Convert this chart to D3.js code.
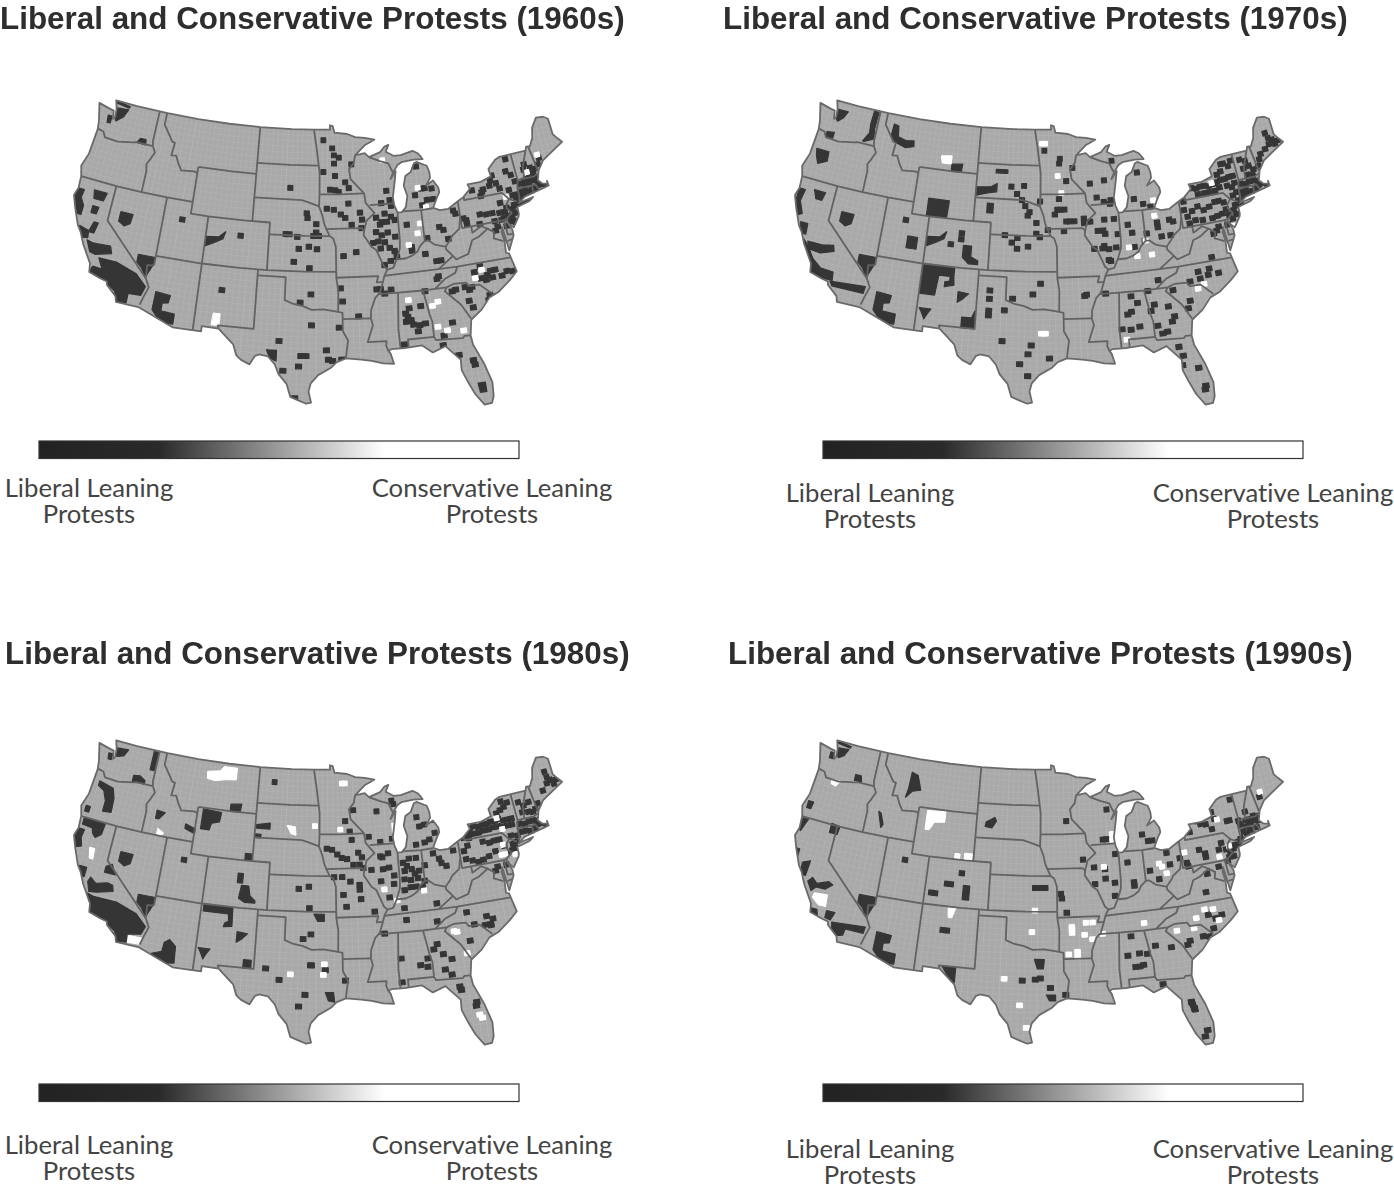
<!DOCTYPE html>
<html>
<head>
<meta charset="utf-8">
<script src="https://cdn.jsdelivr.net/npm/d3@7"></script>
<style>
  html, body { margin: 0; padding: 0; background: #fff; }
  svg { display: block; }
</style>
</head>
<body>
<div id="chart"></div>
<script>
const decades = ["1960s", "1970s", "1980s", "1990s"]
const legendLeft = ["Liberal Leaning", "Protests"]
const legendRight = ["Conservative Leaning", "Protests"]

// lon/lat of the lower 48 outline, lakes cut out
const usOutline = [[-124.7,48.38],[-123.2,48.15],[-122.7,48.1],[-122.5,47.4],[-122.3,47.6],[-122.4,48.3],[-122.75,49],[-120,49],[-116,49],[-112,49],[-108,49],[-104,49],[-100,49],[-97.2,49],[-95.15,49],[-95.15,49.38],[-94.8,49.3],[-94.6,48.75],[-93,48.6],[-92,48.3],[-90.8,48.2],[-89.6,48],[-90.8,47.6],[-92.1,46.75],[-90.9,46.9],[-90.4,46.55],[-89,46.9],[-88.4,47.35],[-87.9,47.47],[-88.3,46.9],[-87.4,46.5],[-86.5,46.5],[-85,46.75],[-84.4,46.5],[-84.1,46.2],[-83.9,45.95],[-85,46],[-86.5,45.9],[-87,45.7],[-87.6,45.1],[-88,44.55],[-87.3,45.2],[-87.5,44.4],[-87.9,43],[-87.8,42.3],[-87.5,41.7],[-87,41.7],[-86.5,42.1],[-86.2,43],[-86.5,43.9],[-86.2,44.7],[-85.5,45],[-85,45.7],[-84.7,45.78],[-83.5,45.35],[-83.3,44.8],[-83.3,44.3],[-83.9,43.7],[-83,44.05],[-82.5,43.4],[-82.45,43],[-82.8,42.6],[-83.1,42.2],[-83.4,41.75],[-82.7,41.5],[-81.7,41.5],[-80.5,42],[-79.8,42.27],[-78.9,42.85],[-79.05,43.27],[-77.5,43.27],[-76.2,43.55],[-76.3,44.2],[-75.3,44.85],[-74.7,45],[-73.3,45],[-71.5,45],[-71.3,45.3],[-70.85,45.25],[-70.3,45.9],[-70,46.7],[-69.2,47.45],[-68.3,47.35],[-67.8,47.07],[-67.8,45.7],[-67.45,45.3],[-67,44.85],[-68.5,44.3],[-69.8,43.8],[-70.6,43.1],[-70.8,42.7],[-71,42.3],[-70.6,41.95],[-70,41.8],[-70,42.05],[-69.95,41.65],[-70.65,41.55],[-71.4,41.45],[-72.9,41.25],[-73.75,40.85],[-72,41.05],[-72.5,40.8],[-74,40.55],[-74,40],[-74.1,39.75],[-74.9,38.95],[-75.5,39.5],[-75.1,38.8],[-75.1,38.3],[-75.9,37.15],[-76,38],[-76.15,39.2],[-76.3,38.8],[-76.2,38],[-76.3,37],[-76,36.9],[-75.6,35.3],[-76.5,34.7],[-77.9,33.9],[-78.9,33.6],[-79.9,32.7],[-81.1,32],[-81.4,30.7],[-81.3,29.9],[-80.55,28.2],[-80.05,26.5],[-80.15,25.3],[-80.4,24.75],[-81.1,24.7],[-81.8,25.7],[-82.3,26.8],[-82.75,27.9],[-82.7,28.8],[-83.4,29.5],[-84,30.1],[-85.3,29.7],[-86.3,30.4],[-88,30.3],[-89.3,30.3],[-89.6,30.15],[-89.4,29.9],[-89.15,29.05],[-90.2,29.15],[-91.3,29.4],[-92.3,29.55],[-93.8,29.7],[-94.7,29.4],[-95.3,28.9],[-96.5,28.3],[-97.2,27.6],[-97.4,26.9],[-97.15,25.95],[-97.6,25.85],[-98.3,26.1],[-99.1,26.4],[-99.5,27.5],[-100.3,28.3],[-100.7,29.1],[-101.4,29.75],[-102.3,29.87],[-102.7,29.7],[-103.15,28.98],[-104,29.3],[-104.5,29.65],[-104.9,30.55],[-106.5,31.75],[-108.2,31.78],[-108.2,31.33],[-111.07,31.33],[-114.8,32.5],[-117.12,32.53],[-117.3,33],[-118.4,33.75],[-118.5,34.03],[-119.2,34.15],[-120.5,34.45],[-120.65,35.15],[-121.9,36.6],[-122.5,37.5],[-123,38],[-123.8,39.3],[-124.35,40.3],[-124.1,41],[-124.2,42],[-124.55,42.85],[-124.1,44],[-123.95,46.2],[-124.1,46.9],[-124.7,48.38]]

// state lines, also lon/lat
const stateLines = [
  [[-124,46.25],[-123.2,46.15],[-122.8,45.7],[-121.2,45.65],[-119.3,45.93],[-118.98,46],[-116.92,46]],
  [[-117.03,49],[-117.04,46.42],[-116.92,46],[-116.5,45.5],[-116.85,44.9],[-117.2,44.4],[-117.03,43.8],[-117.03,42]],
  [[-124.2,42],[-122,42],[-120,42],[-117.03,42],[-114.04,42],[-111.05,42]],
  [[-120,42],[-120,39],[-114.63,35]],
  [[-114.04,36.2],[-114.75,36.1],[-114.63,35],[-114.15,34.3],[-114.5,33.4],[-114.72,32.72]],
  [[-114.04,42],[-114.04,36.2]],
  [[-114.04,37],[-109.05,37],[-105,37],[-102.04,37],[-98,37],[-94.62,37]],
  [[-109.05,41],[-109.05,31.33]],
  [[-111.05,45],[-111.05,41],[-109.05,41],[-105,41],[-102.05,41],[-102.05,37]],
  [[-111.05,45],[-107,45],[-104.05,45]],
  [[-104.05,45],[-104.05,41]],
  [[-116.05,49],[-116.05,48],[-114.7,46.7],[-114.35,46.65],[-114.5,45.55],[-113.9,45.6],[-113.45,44.95],[-113,44.45],[-111.5,44.55],[-111.05,44.5]],
  [[-104.05,49],[-104.05,45]],
  [[-104.05,45.94],[-100,45.94],[-96.56,45.94]],
  [[-104.05,43],[-98.5,43],[-97.8,42.85],[-96.5,42.5]],
  [[-102.05,40],[-98,40],[-95.3,40]],
  [[-103,37],[-103,32],[-106.62,32],[-106.5,31.75]],
  [[-103,36.5],[-100,36.5],[-100,34.56],[-99.2,34.3],[-98.1,34.1],[-97.2,33.8],[-96,33.85],[-94.48,33.64]],
  [[-94.62,37],[-94.62,36.5],[-94.43,35.4],[-94.48,33.64],[-94.04,33.55],[-94.04,32],[-93.55,31.2],[-93.8,29.7]],
  [[-94.04,33.02],[-91.17,33]],
  [[-97.2,49],[-96.85,47.5],[-96.56,45.94],[-96.45,45.3],[-96.45,43.5],[-96.5,42.5],[-96.1,41.7],[-95.9,41],[-95.3,40],[-94.9,39.8],[-94.62,39.1],[-94.62,37]],
  [[-96.45,43.5],[-94,43.5],[-91.22,43.5]],
  [[-95.77,40.58],[-91.7,40.6],[-91.42,40.38]],
  [[-94.62,36.5],[-90.15,36.5],[-90.37,35.99],[-89.7,36]],
  [[-92.1,46.75],[-92.3,46.1],[-92.9,45.6],[-92.75,44.75],[-91.22,43.5],[-91.1,42.7],[-90.15,41.8],[-91.1,41.2],[-91.42,40.38],[-91.5,40],[-90.7,39],[-90.2,38.7],[-89.5,37.3],[-89.15,37],[-89.5,36.5],[-89.7,36],[-90.1,35.1],[-90.6,34.7],[-91.1,33.7],[-91.17,33],[-91,32.4],[-91.6,31],[-89.73,31],[-89.8,30.6],[-89.6,30.15]],
  [[-90.64,42.5],[-87.8,42.5]],
  [[-90.4,46.55],[-89.1,46.14],[-88.1,45.9],[-87.8,45.35],[-87.6,45.1]],
  [[-87.52,41.7],[-87.53,39.35],[-87.6,38.7],[-88.05,37.8]],
  [[-89.15,37],[-88.5,37.1],[-88.05,37.8],[-87.1,37.8],[-86.3,38],[-85.7,38.3],[-85.4,38.7],[-84.8,39.1],[-84.4,39.1],[-83.7,38.65],[-82.6,38.4],[-82,38.9],[-81.75,39.2],[-80.85,39.7],[-80.52,40.64]],
  [[-84.8,41.7],[-84.8,39.1]],
  [[-87,41.76],[-84.8,41.7],[-83.45,41.73]],
  [[-80.52,42],[-80.52,39.72],[-75.79,39.72],[-75.42,39.8]],
  [[-79.76,42.27],[-79.76,42],[-75.35,42],[-74.7,41.36],[-75.13,40.98],[-75.2,40.65],[-74.75,40.2],[-75.42,39.8],[-75.55,39.5]],
  [[-74.7,41.36],[-73.9,41]],
  [[-73.65,41],[-73.5,41.3],[-73.5,42.05],[-73.26,42.75],[-73.3,44],[-73.35,45]],
  [[-73.5,42.05],[-71.8,42.02],[-71.38,42.02],[-71.13,41.5]],
  [[-71.8,42.02],[-71.85,41.32]],
  [[-73.26,42.75],[-71.3,42.7],[-70.82,42.87]],
  [[-72.46,42.73],[-72.3,43.7],[-71.5,45]],
  [[-70.7,43.07],[-71.08,45.3]],
  [[-75.79,39.72],[-75.7,38.46],[-75.05,38.45]],
  [[-75.9,37.95],[-75.25,38.03]],
  [[-79.48,39.72],[-79.48,39.2],[-78.4,39.6],[-77.75,39.3],[-77.1,38.9],[-77.3,38.4],[-76.3,38]],
  [[-77.75,39.3],[-78.87,38.77],[-79.65,38.58],[-80.3,37.5],[-81.68,37.2],[-81.97,37.54],[-82.6,38.15],[-82.6,38.4]],
  [[-81.97,37.54],[-83.68,36.6]],
  [[-75.9,36.55],[-81.68,36.59],[-83.68,36.6],[-88.07,36.55],[-89.5,36.5]],
  [[-81.68,36.59],[-82,36.1],[-83.1,35.75],[-84.32,34.99]],
  [[-83.1,35],[-84.32,34.99],[-85.6,34.98],[-88.2,35],[-90.3,35]],
  [[-83.1,35],[-82.35,35.2],[-81.05,35.15],[-80.8,34.82],[-79.67,34.8],[-78.55,33.86]],
  [[-83.1,35],[-83.35,34.7],[-81.9,33.4],[-81.1,32.1]],
  [[-85.6,34.98],[-85.18,32.87],[-85,32.3],[-85,31]],
  [[-87.6,30.3],[-87.6,31],[-85,31],[-84.86,30.7],[-82.2,30.57],[-82,30.75],[-81.45,30.72]],
  [[-88.2,35],[-88.47,31.9],[-88.4,30.3]]
]

// single county protests per decade, lon/lat
const liberal1960s = [[-111.9,40.4],[-105.2,39.7],[-99.9,44],[-97.9,41.9],[-97.8,41.5],[-100.2,40.1],[-99.8,40.1],[-98.9,39.9],[-98.7,38.9],[-97.6,39.1],[-99.2,37.8],[-97.5,37.3],[-96.7,38.9],[-97.3,35.1],[-98.4,34.4],[-106.6,35],[-97.2,32.5],[-100.4,31.1],[-99.9,28.6],[-98.4,29],[-98.2,29.9],[-97.7,29.9],[-98.7,26.3],[-96.8,40.3],[-97.1,40],[-96.5,40],[-96.8,41],
  [-96,48.1],[-94.9,47.4],[-94.7,46.8],[-94.1,46.6],[-94.7,46.1],[-92.6,46],[-96,45.4],[-94.6,45.05],[-93.4,44.5],[-95.2,43.9],[-94.2,43.7],[-93,44],[-94.6,43.85],[-93.1,42.7],[-95.6,42.3],[-94.8,42.2],[-94,41.8],[-93.5,41.5],[-92.8,40.9],[-91.8,41.9],[-91.6,41.3],[-91.7,40.6],
  [-89.3,42.6],[-88.3,42.8],[-88.2,42.3],[-90,41.4],[-89,41.7],[-88.3,41.4],[-87.9,41.1],[-90.1,40.2],[-89.5,39.9],[-88.8,40.1],[-88,39.7],[-89.9,39.4],[-89.2,39.3],[-89.7,38.8],[-88.7,38.8],[-90.5,39.3],[-88.2,38.5],[-88,38],[-88.7,37.7],[-89.4,37.4],[-89.6,40.8],[-88.8,41],[-89.4,41],[-88.6,43.6],
  [-86.6,40.6],[-86.3,38.4],[-86.3,38.7],[-84.5,39.3],[-83,40.1],[-82.6,39.8],[-82.2,39],[-81.2,41.3],[-81,41],[-84.9,38],[-83.8,37.3],[-83.3,37.3],[-84,35.8],[-83.8,36],[-90.4,35.4],[-90,35.4],[-88.9,35.3],[-89.6,35],[-85.4,34.9],
  [-80.2,40.5],[-79.9,40.3],[-78.3,40.6],[-77.6,40.5],[-79.9,40],[-78.5,39.8],[-76.9,40.5],[-76.1,40.4],[-76.8,39.8],[-76,39.8],
  [-78.7,42.7],[-77.6,42.4],[-77.8,42.1],[-77.4,42.6],[-76.4,43.2],[-75.8,42.9],[-76.1,43.6],[-74.1,44.7],[-73.9,43.3],[-73.6,42.7],[-75.5,42.4],[-76.6,42.8],[-74.4,43.7],
  [-72.1,43.9],[-72.3,43.5],[-72.2,42.7],[-73.1,42.4],[-72.6,42.3],[-72.1,42.3],[-71.6,42.4],[-71.2,42.4],[-70.9,42.5],[-71.1,42.1],[-70.8,41.9],[-70.2,41.7],[-71.8,42.6],[-72.5,42.6],[-71.5,43.5],[-71.3,43],[-71.8,43.1],[-71,43.3],[-70.5,43.6],[-70.2,44.1],[-73.2,41.7],[-72.7,41.8],[-72.2,41.6],[-72.9,41.4],[-73.3,41.3],[-71.9,41.7],[-71.5,41.7],[-73.7,41.6],[-73.8,41.1],[-73.9,41.4],[-74.2,41.6],[-74,40.7],[-73.5,40.8],[-72.8,40.9],[-74.5,42.1],[-74.3,40.8],[-74.6,40.5],[-74.4,40.1],[-74.8,39.8],[-75,39.5],[-74.6,39.4],[-75.2,40],[-75.5,40.4],[-75.2,40.7],[-75.8,41.2],[-75.7,39.9],[-75.6,39.2],[-76.6,39.3],[-76.9,39],
  [-79.3,36.3],[-78.7,35.5],[-78.2,35.2],[-77.8,35.8],[-77.2,35.2],[-76.6,35.5],[-76,35.4],[-79.4,35.3],[-78.9,35.1],[-80,35.9],[-78.3,35.8],
  [-81,33.6],[-80.7,33],[-80.8,34.5],[-82.2,34.7],[-78.8,33.8],[-78.4,33.6],[-79,33.4],[-81.2,34.8],[-80.5,34.7],[-84,31],[-83,32],[-82.6,34.6],
  [-87.4,32.9],[-87.6,32.5],[-86.9,32.2],[-86.5,31.6],[-86.3,32.1],[-85.7,32.2],[-86,33.7],[-87.2,33.6],[-87.1,32.6],[-87.6,33.2],
  [-93.8,38.3],[-92.4,38.6],[-94.2,35.6],[-94,34.5],[-92.4,33.2],[-94.4,32.3],[-95.7,30.4],[-95.5,29.6],[-95.1,29.5],[-94.2,29.6],[-81.5,28.6],[-81.4,28.2],[-82.8,29.2],[-84.2,30.2],[-88,30.6],
  [-84.8,45.4],[-84.1,43.5],[-85.3,43],[-84,42.5],[-83.3,42.5],[-84.6,42.1],[-84.5,43.5],[-83.3,43.4]]
const conservative1960s = [[-88.8,46.2],[-84.9,43.6],[-84.2,41.9],[-85.1,40.6],[-85.5,39.8],[-86.6,38.9],[-79.2,36],[-80,35.4],[-87.2,34.3],[-84.8,33.6],[-84.2,33.9],[-84.5,31.8],[-83.6,31.4],[-82,31.2],[-70.3,44.4],[-72,43.2],[-75,41.6]]
const liberalAreas1960s = [
  [[-119.9,35.8],[-118,35.8],[-115.7,35.2],[-114.5,34.3],[-114.8,33.5],[-116.1,33.45],[-116.1,32.65],[-117.1,32.55],[-117.5,33.4],[-118.5,33.9],[-119.3,34.2],[-120.5,34.5],[-120.3,35],[-119.3,34.95]],
  [[-115.9,36.85],[-114.05,36.85],[-114.2,36.1],[-114.7,35.1],[-115.3,35.8],[-115.9,36.2]],
  [[-113.35,34.05],[-111.8,33.95],[-111.9,33.3],[-112.5,33.2],[-112.5,32.55],[-111.1,32.45],[-111.1,31.6],[-112.3,31.55],[-113.4,32.5]],
  [[-122.3,41.2],[-120.8,41.2],[-121,40.5],[-122.1,40.5]],
  [[-124.1,41],[-123.4,41],[-123.5,40.3],[-123,39.7],[-123,38.9],[-123.7,38.9],[-124.2,40.2]],
  [[-122,39.9],[-121.3,39.9],[-121.4,39.3],[-122,39.3]],
  [[-121.4,38.6],[-120.9,38.6],[-121.1,37.7],[-121.7,37.7]],
  [[-122.8,38],[-121.7,37.8],[-121.6,37.2],[-122.2,37.1],[-122.6,37.5]],
  [[-121.6,37],[-121,36.9],[-120.5,36.9],[-119,37],[-118.7,36.4],[-120.4,36],[-121,36.1]],
  [[-118.8,40],[-117.4,40],[-117.5,39.2],[-118.1,38.9],[-118.8,39.2]],
  [[-109,39.3],[-107.6,39.4],[-106.9,39.9],[-107.1,39.3],[-108,38.9],[-109,38.5]],
  [[-122.5,48.4],[-120.9,48.5],[-121.3,47.8],[-122.1,47.3],[-122.4,47.7]],
  [[-123.2,47.6],[-122.7,47.6],[-122.7,47],[-123.1,47]],
  [[-122.6,49],[-120.8,48.8],[-120.9,48.65],[-122.5,48.8]],
  [[-118.6,46.4],[-117.9,46.4],[-117.8,45.95],[-118.9,46]],
  [[-101.6,30.3],[-100.6,30.3],[-100.6,29.4],[-101.2,29.6]],
  [[-81.4,26.6],[-80.7,26.6],[-80.7,25.8],[-81.3,25.8]]]
const conservativeAreas1960s = [[[-107.2,33],[-106.5,33],[-106.5,32],[-107.3,32]]]

const liberal1970s = [[-111.6,40.4],[-105.2,39.9],[-105.2,39.4],[-106.3,38.9],[-99.9,44.1],[-99.2,43.5],[-98.6,43],[-98.2,42.5],[-97.7,42],[-98.4,44.2],[-97.9,41.7],[-96.9,41.1],[-100.4,40],[-99,39.8],[-99.6,39.4],[-99,38.9],[-97.8,39.1],[-96.9,40.2],[-96.5,39.9],
  [-101.7,35.3],[-101.7,34.6],[-101.7,33.6],[-101.7,33.2],[-100.1,33.7],[-100.2,31.1],[-97.3,30.8],[-97.6,30.05],[-98.4,29.2],[-97.6,28.2],[-99.3,34.7],[-97.2,35.1],[-96.4,36],
  [-96,47.2],[-94.1,46.5],[-94.2,46.1],[-92.6,45.7],[-93.4,44.6],[-90.6,44.3],[-88.9,44.5],[-89.9,43.1],[-89.1,42.7],[-88.3,42.8],[-88.4,42.5],[-87.8,46.1],[-84.9,44.9],[-85.6,42.7],[-84.6,42.2],[-83.8,41.9],
  [-96.5,42.9],[-94.3,43.1],[-94.5,42.2],[-94.2,42.2],[-94.8,41.8],[-93.7,42.2],[-92.6,41.2],[-93.5,41.2],[-93.1,41.2],[-91.5,41.4],[-91.5,41],[-93.8,40.4],[-95.6,40.5],
  [-90.8,41.1],[-89.2,41.2],[-88.1,41.2],[-90,40.3],[-89.4,40.3],[-89.2,40],[-87.8,39.9],[-90.5,38.8],[-89.4,39],[-89.6,38.8],[-88.9,38.7],[-88.1,38.8],[-89,37.8],[-88.8,37.7],[-86.6,40.6],[-86.2,39.9],[-86.1,38.7],
  [-84.6,39.7],[-84.9,39.1],[-83.3,40.5],[-83.3,40.1],[-81.9,40.6],[-81.5,40.4],[-82,39.3],[-83,39.3],
  [-68.8,46],[-68.6,45.5],[-68.2,45.3],[-67.6,45.1],[-68,44.9],[-68.7,45],[-69.3,44.7],[-70,44.4],
  [-78.8,42.9],[-78.3,42.8],[-77.8,42.9],[-77.3,42.9],[-76.8,42.8],[-76.3,42.9],[-75.8,43],[-75.3,43.1],[-74.8,43.1],[-74.3,43.2],[-73.8,43.2],[-75.6,43.6],[-75.1,43.8],[-74.6,44.4],[-74.1,44.1],[-73.7,44.5],[-74.9,44.4],[-75.6,42.5],[-76.2,42.3],[-76.9,42.3],[-77.5,42.3],[-78.2,42.3],[-74.7,42.5],[-74.2,42.3],[-73.8,42.6],[-73.8,41.8],[-74.3,41.6],
  [-72.6,44.4],[-72,44.2],[-72.4,43.6],[-71.7,43.7],[-71.3,43.3],[-72.1,43],[-71.5,42.9],[-70.6,43.5],[-70.3,44],[-73.1,42.4],[-72.6,42.3],[-72.1,42.4],[-71.6,42.4],[-71.1,42.3],[-70.8,42],[-70.2,41.7],[-73.2,41.7],[-72.7,41.8],[-72.2,41.6],[-72.7,41.4],[-73.3,41.3],[-71.5,41.7],[-71.2,41.9],
  [-79.8,40.6],[-79.2,41],[-78.5,41.3],[-77.9,40.9],[-77.2,41.1],[-76.5,41.4],[-76,41.4],[-75.5,41.2],[-75.4,40.6],[-75.2,40.1],[-75.9,40.3],[-76.5,40.2],[-77.1,40.1],[-78.2,40.1],[-79,40.2],[-79.7,40],[-80.1,41.2],[-80,41.9],
  [-74.3,40.8],[-74.6,40.4],[-74.4,40],[-74.9,39.7],[-74,40.7],[-73.6,40.8],[-73.8,41.1],[-75.6,39.3],[-76.6,39.3],[-76.9,39],[-77.3,38.8],[-78,36.9],
  [-87,34.6],[-86.4,34],[-87.5,33.1],[-87.1,33.3],[-87.3,31.8],[-86.4,32],[-88.2,31.9],[-91.8,34.9],[-91.6,35],[-84,35.7],[-89.6,35],[-85.2,34.9],
  [-79.7,35.9],[-80.7,35.2],[-79.6,35.3],[-78.7,35.5],[-77.6,35.5],[-78.5,36],[-81,33.6],[-81.3,33],[-82.6,34.7],[-84.7,33.7],[-83.3,33.4],[-84.6,31.9],[-84.2,31.2],[-83.7,31.3],[-82.8,32.5],[-83.1,32.1],[-85.1,33.2],
  [-82.8,29.9],[-82.5,29.1],[-82.7,28.3],[-81.2,27.9],[-80.8,26.3],[-80.9,26],[-95.5,29.7]]
const conservative1970s = [[-86.7,38.7],[-84.8,39.1],[-85.9,37.9],[-84.3,37.9],[-96.3,31.8],[-95.9,31.8],[-87.8,31],[-94.4,45.05],[-94,43.6],[-96.3,47.8],[-95.9,47.8],[-83.4,42.4],[-80,34.5],[-79.3,34.8],[-75,39.1],[-75.9,37.1],[-76.4,43],[-83.5,41.1]]
const liberalAreas1970s = [
  [[-122.4,48.3],[-121,48.3],[-121.4,47.7],[-122,47.3],[-122.4,47.6]],
  [[-117.8,48.9],[-117.2,48.9],[-117.3,47.4],[-117.1,46.6],[-118.2,46.2],[-118.4,46.2],[-117.8,47],[-117.9,47.8]],
  [[-122.9,46.2],[-122,46.3],[-122,45.8],[-122.8,45.8]],
  [[-123.5,44.6],[-122,44.6],[-121.9,43.8],[-122.9,43.4],[-123.3,44]],
  [[-115,48.2],[-114.4,48.1],[-114.2,47.2],[-113.2,47],[-112.2,47.1],[-112.1,46.6],[-113.1,46.4],[-114.5,46.7],[-115.1,47.2]],
  [[-107.2,45.6],[-105.9,45.7],[-106,45],[-107.2,45]],
  [[-109.4,42.5],[-107,42.5],[-107.1,41.05],[-109.4,41.05]],
  [[-104,43.9],[-102.3,44],[-101.6,44.3],[-101.6,43.6],[-102.5,43.5],[-104,43.2]],
  [[-101.8,45.5],[-100.4,45.5],[-100.4,45.2],[-101.8,45.2]],
  [[-102.6,42.6],[-101.9,42.6],[-101.9,41.8],[-102.6,41.8]],
  [[-122.4,41.2],[-121.1,41.2],[-121.3,40.5],[-122,40.5]],
  [[-124.1,41],[-123.4,41],[-123.6,40],[-123,39],[-123.6,38.7],[-124.1,40]],
  [[-122.9,38.3],[-122.1,38.3],[-122,37.4],[-122.6,37.4]],
  [[-121.6,36.9],[-120,36.9],[-118.8,37.1],[-118.6,36.6],[-120,36.2],[-121.3,36.3]],
  [[-122.1,37],[-121.4,36.5],[-120.6,35.6],[-119.6,35],[-118.2,34.9],[-118.1,34.2],[-119.3,34.2],[-120.5,34.5],[-120.9,35.4],[-121.9,36.5]],
  [[-118.3,34.1],[-114.6,34.3],[-114.7,33.7],[-118,33.75]],
  [[-115.9,36.85],[-114.05,36.85],[-114.2,36.1],[-114.7,35.1],[-115.3,35.8],[-115.9,36.2]],
  [[-113.35,34.05],[-111.8,33.95],[-111.9,33.3],[-112.5,33.2],[-112.5,32.55],[-111.1,32.45],[-111.1,31.6],[-112.3,31.55],[-113.4,32.5]],
  [[-111.1,39.1],[-110,39.1],[-110,38.1],[-111.1,38.1]],
  [[-118.8,40],[-117.4,40],[-117.5,39.2],[-118.1,38.9],[-118.8,39.2]],
  [[-109,39.3],[-107.6,39.4],[-106.9,39.9],[-107.1,39.3],[-108,38.9],[-109,38.5]],
  [[-104.9,38.9],[-104,38.9],[-104,38],[-103.2,37.7],[-103.2,37.4],[-104.2,37.4],[-104.9,37.9]],
  [[-109,37],[-105.6,36.95],[-105.6,36.2],[-105.5,35.5],[-106.5,35.3],[-106.5,35.7],[-106,35.8],[-106,36.2],[-107.2,36.2],[-107.4,34.5],[-109,34.5]],
  [[-105,35],[-103.9,34.9],[-104.5,34.4],[-105,34.1]],
  [[-108.8,33.3],[-107.6,33.3],[-107.9,32.9],[-108.2,32.4],[-108.5,32.9]],
  [[-104.4,32.9],[-103.4,32.9],[-103.1,33.5],[-103.05,32],[-104.4,32]]]
const conservativeAreas1970s = [[[-108.6,46.2],[-107.3,46.3],[-107.3,45.6],[-108.4,45.6]]]

const liberal1980s = [[-111.7,40.4],[-105.2,39.7],[-105.2,39.3],[-102.1,47.8],[-98.7,38.9],[-97.6,39.1],[-97.5,37.3],[-101.8,32.1],[-100.4,31.2],[-97.2,32.5],[-97.8,30],[-98.4,29],[-98.1,34.7],[-97.3,35.1],
  [-87.7,46.1],[-87.5,45.8],[-92.4,45.5],[-93.4,44.6],[-89.6,45.3],[-92.9,43.7],[-92.7,43],[-90.7,43.2],[-89.4,42.7],[-88,42.9],
  [-95.6,42.3],[-95,42.2],[-94.4,41.8],[-93.9,41.5],[-93.3,41.4],[-92,41.9],[-91.6,41.5],[-91.9,40.9],[-92.6,40.9],[-91.5,40.6],
  [-90.6,40.4],[-89.3,41.4],[-89.3,40.4],[-88.6,40.5],[-89.6,39.4],[-88.1,39.8],[-88.2,39.1],[-88.8,38],[-89.5,41.5],[-88.6,41.7],
  [-94.8,39.9],[-93.9,39.9],[-93,39.5],[-93.8,38.4],[-92,39.2],[-91.9,38],[-93.5,37.4],[-90.5,36.9],[-92,38.8],
  [-87,40.8],[-86.3,41.1],[-85.5,41.1],[-86.9,40.1],[-86.1,40.2],[-85.3,40],[-84.6,40.4],[-87,39.4],[-86.3,39.3],[-85.5,39.4],[-84.8,39.1],[-87.1,38.5],[-86.4,38.7],[-85.8,38.7],[-85.1,38.6],[-86.6,40.5],[-85.8,39.8],
  [-83.5,41.3],[-82.7,40.4],[-82.2,40.1],[-81.2,41.3],[-82.9,40.8],[-84.9,44.5],[-84.1,43.8],[-83,44.1],[-83,43],[-84.3,42.3],[-85.3,42.2],[-83.7,42.5],[-84.7,43.7],
  [-80.8,36],[-78.8,35.4],[-78.5,34.7],[-80.2,34.9],[-79.1,34.7],[-78.5,34.6],[-78.2,35.1],[-80.9,33.6],[-84.3,33.7],[-83.8,32.8],[-84.7,33.3],[-83,32.3],[-83.8,31.5],[-83.2,31],
  [-88.1,32.8],[-86.2,32.1],[-85.4,32.6],[-85.5,31.9],[-82.5,29.6],[-82.6,29.9],[-81.2,28.4],[-81.3,28.1],[-93.8,31.2],[-95.8,32.1],[-88.2,30.8],[-97.3,32.5],[-87.2,36],[-84,35.6],[-89.6,35],[-87.3,37],[-83.8,37.1],
  [-68.7,46.1],[-68.6,45.6],[-68.3,45.3],[-67.6,45.2],[-68,44.9],[-68.8,45.1],[-69.5,44.6],
  [-79.8,42.2],[-79.2,42.5],[-78.9,42.9],[-78.4,43],[-77.9,42.9],[-77.4,43],[-76.9,43],[-76.4,43.1],[-75.9,43.1],[-75.4,43.2],[-74.9,43],[-74.4,43],[-73.9,43],[-78.6,42.4],[-78,42.4],[-77.4,42.5],[-76.8,42.5],[-76.2,42.6],[-75.6,42.6],[-75,42.5],[-74.5,42.5],[-74,42.5],[-79.2,42.1],[-75.5,43.7],[-75,43.9],[-74.5,44.1],[-74,44.4],[-74.7,44.6],
  [-72.7,44.2],[-72.2,43.8],[-71.5,44],[-71.8,43.2],[-71.3,43.1],[-72.5,43.3],[-70.5,43.7],[-70.9,43.3],[-73.1,42.4],[-72.6,42.3],[-72,42.4],[-71.5,42.4],[-71.1,42.3],[-70.8,42],[-70.2,41.7],[-73.1,41.7],[-72.6,41.7],[-72.1,41.6],[-71.5,41.7],[-71.2,42],
  [-77.7,41.6],[-77,41.4],[-76.4,41.5],[-75.8,41.5],[-79.5,41.5],[-80,41.1],[-79.9,40.4],[-79.2,40.2],[-78.6,40],[-78,40.1],[-77.3,40.3],[-76.5,40.6],[-75.4,40.9],[-75.3,40.2],
  [-74.4,40.9],[-74.6,40.4],[-74.2,40.5],[-74,41],[-73.7,41.5],[-74.4,41.6],[-76.6,39.3],[-76.9,39],[-75.6,39.3]]
const conservative1980s = [[-93.7,47.8],[-93.3,47.8],[-97,44.2],[-94,43.9],[-87.6,44],[-87.6,43.6],[-88,37.7],[-89.3,38.7],[-85,38.3],[-75.5,41],[-75.9,40.2],[-75.5,40.2],[-74.4,40],[-82.1,34.5],[-82.4,34.6],[-81.4,32.6],[-81.1,27.3],[-80.9,27],[-96,31.7],[-99.3,31.7],[-75.6,43.3],[-75.2,42.3],[-95.9,32.6]]
const liberalAreas1980s = [
  [[-122.5,48.4],[-120.9,48.5],[-121.3,47.9],[-122.1,47.7],[-122.4,47.9]],
  [[-123.2,47.8],[-122.7,47.8],[-122.7,47.3],[-123.1,47.3]],
  [[-117.7,48.9],[-117.1,48.9],[-117.2,47.3],[-117.7,47.3]],
  [[-119.5,46.5],[-118.7,46.6],[-118,46.3],[-118,46],[-119.5,46]],
  [[-123.3,45.3],[-121.5,45],[-121.1,44.2],[-121,43],[-122,42.9],[-122,43.8],[-122.5,44.6],[-123.3,44.9]],
  [[-124,43],[-123.5,43],[-123.5,42.5],[-124,42.5]],
  [[-123.8,42],[-122,42],[-121.3,41.9],[-121.4,41],[-122,40.6],[-122.4,40.9],[-122.6,41.3],[-123.8,41.4]],
  [[-115.8,44.1],[-114.8,44],[-115.4,43.4],[-115.8,43.4]],
  [[-112.2,43.4],[-111,43.1],[-111,42.7],[-112.2,43]],
  [[-107.2,45.6],[-105.9,45.7],[-106,45],[-107.2,45]],
  [[-110.4,44.9],[-108.2,44.8],[-108.3,44],[-109.2,43.8],[-109.4,43.2],[-110.4,43.2]],
  [[-103.9,44.1],[-102.3,44.3],[-102.3,43.8],[-103.9,43.8]],
  [[-104,43.3],[-103.3,43.3],[-103.3,43],[-104,43]],
  [[-104.9,41.6],[-104.1,41.6],[-104.1,41.05],[-104.9,41.05]],
  [[-118.8,40],[-117.4,40],[-117.5,39.2],[-118.1,38.9],[-118.8,39.2]],
  [[-105,38.9],[-104.2,38.9],[-104,38.1],[-103.4,37.7],[-103.4,37.5],[-104.5,37.5],[-105.2,37.8]],
  [[-124.1,41],[-123.4,41],[-123.5,40.3],[-123.2,39.6],[-123.8,39.4],[-124.2,40.2]],
  [[-122.8,38],[-122,38],[-122,37.2],[-122.5,37.2]],
  [[-120,38.5],[-119.4,38.8],[-118.8,38],[-120,38]],
  [[-121.5,36.9],[-121.3,37.3],[-120.6,36.9],[-119.4,37.2],[-118.8,37.1],[-118.6,36.6],[-120.3,36.2],[-121.1,36.1]],
  [[-121.6,36],[-120.5,35.8],[-118,35.8],[-115.7,35.2],[-114.5,34.3],[-114.8,33.6],[-116.2,33.4],[-116.1,32.7],[-117.1,32.6],[-117.5,33.4],[-118.5,33.9],[-120.5,34.5],[-120.9,35.2]],
  [[-115.9,36.85],[-114.05,36.85],[-114.2,36.1],[-114.7,35.1],[-115.3,35.8],[-115.9,36.2]],
  [[-112.3,33.3],[-111.8,33.6],[-111.1,33.1],[-111,31.7],[-112.2,31.55],[-113.4,32.2],[-112.4,32.5]],
  [[-108.8,37],[-105.7,36.95],[-105.6,35.4],[-106.5,35.3],[-106.4,35.6],[-106,35.8],[-106.1,36.4],[-108.8,36.4]],
  [[-105,35],[-103.9,34.9],[-104.5,34.4],[-105,34.1]],
  [[-108.8,33.3],[-107.6,33.3],[-107.9,32.9],[-108.2,32.4],[-108.5,32.9]],
  [[-104.1,32.7],[-103.3,32.7],[-103.3,32],[-104.1,32]],
  [[-97,36.8],[-95.9,36.8],[-95.9,36.2],[-96.6,36.2]],
  [[-95.8,30.2],[-95,30.2],[-94.9,29.4],[-95.5,29.5]]]
const conservativeAreas1980s = [
  [[-110.6,48.1],[-109,48.3],[-108.6,48.7],[-106.9,48.7],[-106.9,47.7],[-108.3,47.6],[-109.5,47.4],[-110.5,47.5]],
  [[-115.3,42.6],[-114.5,42.3],[-114.8,42],[-115.3,42.1]],
  [[-100.3,44.2],[-99.3,44.1],[-99.2,43.4],[-99.8,43.5]],
  [[-122.3,39.7],[-121.7,39.7],[-121.6,38.8],[-122,38.8]],
  [[-116,33.3],[-114.6,33.3],[-114.7,32.75],[-116,32.7]]]

const liberal1990s = [[-111.7,40.4],[-105.2,39.9],[-106.7,38.9],[-106.3,38.9],[-108.3,38],[-107.9,38],[-106.6,35],[-106.2,35],[-93.4,44.6],[-88.5,45.4],[-89.2,42.9],[-88.8,42.9],[-90.4,40.6],[-89.2,40.4],[-89.2,39.6],[-90.4,39.2],[-88.3,38.1],[-88.2,39.2],[-87.9,41.6],[-91.6,41.3],[-86.6,40.8],[-86.1,38.8],[-86.1,39.1],
  [-96.4,39],[-97,39],[-94.2,38.5],[-94.1,38.1],[-93.6,36.9],[-82.1,41.2],[-80.7,40.6],[-81.9,40.2],[-84.2,39.9],[-83.3,39.1],[-78,38.9],[-78.5,37.4],[-84.6,43],[-84,42.4],[-83.5,42.4],
  [-79.1,42.6],[-77.7,43.1],[-77.1,43],[-76.5,42.5],[-76,43.3],[-76.2,43.9],[-74.6,42.9],[-74.3,42.9],[-73.7,44.6],[-73.3,42.7],[-72.3,43.3],[-70.2,44.2],[-80,40.1],[-79.9,39.8],[-78.4,41],[-77.8,40.6],[-77.8,40.3],[-76.2,40.7],
  [-75,40.2],[-74.6,40.5],[-74.3,40.8],[-74,40.7],[-73.8,41],[-73.5,41.2],[-74.7,39.9],[-75.2,39.9],[-75.5,39.6],[-76.6,39.3],[-75.4,40.6],[-75.8,41.2],[-73,41.7],[-72.6,42.1],[-72.2,41.7],[-72,42.3],[-71.5,42.4],[-71.1,42.3],[-71.4,41.8],[-73.2,42.3],[-72.7,41.5],[-70.8,42.7],[-72,42.6],[-72.5,42.6],[-71.5,42.8],[-78,43.4],
  [-78.7,35.5],[-78,35.1],[-77.3,35.3],[-78.4,34.3],[-79,33.7],[-81,33.6],[-79.6,33.8],[-81.3,33.3],[-87.5,33],[-86.3,33.1],[-85.5,33],[-86.8,32],[-86.4,32],[-86,32.1],[-87,34.6],[-84.6,33.6],[-83,33.3],[-84.3,30.3],[-80.7,25.9],[-81,25.4],[-96.4,31.4],[-95.4,30.6],[-93.9,30],[-96.4,32.7],[-96.9,31.3],
  [-98.2,31.2],[-95.9,39],[-81.8,28.5],[-81.6,27.9]]
const conservative1990s = [[-93.1,35.7],[-93.1,35.2],[-91.6,36],[-90.9,36],[-91.8,35],[-91,34.6],[-92.6,33.6],[-92.6,33.2],[-93.5,33.4],[-89.9,35],[-93.1,35.5],[-83.1,40.4],[-82.8,40.1],[-82.4,39.5],[-79,36],[-80,35.4],[-78.1,35.9],[-77.7,34.9],[-80.4,34.6],[-82.2,34.6],[-80.1,41],[-76.3,40.1],[-75.7,43.2],[-70,44.6],[-89.3,40.6],[-88.1,43.3],[-88.1,42.8],[-85.5,35.6],
  [-100,31.3],[-98.4,29.1],[-97.7,27.2],[-97,37.1],[-97.3,35.3],[-105.9,41.3],[-75,40.8]]
const liberalAreas1990s = [
  [[-122.5,48.4],[-121,48.5],[-121.4,47.9],[-122,47.6],[-122.4,47.9]],
  [[-122.6,49],[-120.8,48.8],[-120.9,48.65],[-122.5,48.8]],
  [[-123.1,47.9],[-122.6,47.9],[-122.6,47.4],[-123.1,47.4]],
  [[-119.4,46.6],[-118.7,46.6],[-118.5,46.1],[-119.4,46.1]],
  [[-124,43.4],[-123.4,43.4],[-123.5,42.8],[-124,42.8]],
  [[-124,41.9],[-123.4,41.9],[-123.9,40.8],[-124.2,40.9]],
  [[-120.7,42.1],[-119.7,42],[-119.8,41.3],[-120.7,41.3]],
  [[-112.6,47.8],[-111.8,47.6],[-111.2,46.4],[-112.2,46.2],[-112.9,45.6],[-112.7,46.4]],
  [[-115.7,44],[-115.4,43.9],[-114.9,43],[-115.1,42.7]],
  [[-102.9,44.4],[-101.9,44.8],[-101.7,44.5],[-102.2,43.9],[-103,44]],
  [[-104.9,38.9],[-104.2,38.9],[-104.2,37.7],[-104.9,37.7]],
  [[-122.7,38.3],[-121.9,38.6],[-122,37.3],[-122.6,37.3]],
  [[-123.9,39.3],[-123.4,39.3],[-123.4,38.7],[-123.6,38.6]],
  [[-121.6,36.9],[-121.2,37.3],[-120.6,36.9],[-119.4,37.3],[-118.9,37.1],[-119.6,36.6],[-120.6,36.6],[-121,36.2]],
  [[-120.7,34.8],[-119.9,34.8],[-119.7,34.3],[-120.5,34.3]],
  [[-118.9,34.9],[-118,34.9],[-118.3,34.2],[-118.9,34.3]],
  [[-118.1,34.05],[-114.6,34.25],[-114.7,33.7],[-116.6,33.75],[-116.7,33.2],[-117.5,33],[-117.9,33.4]],
  [[-115.9,36.85],[-114.05,36.85],[-114.2,36.1],[-114.7,35.1],[-115.3,35.8],[-115.9,36.2]],
  [[-113.35,34.05],[-111.8,33.95],[-111.9,33.3],[-112.5,33.2],[-112.5,32.55],[-111.1,32.45],[-111.1,31.6],[-112.3,31.55],[-113.4,32.5]],
  [[-106.3,32],[-104.9,32],[-104.9,30.7],[-105.4,30.9]],
  [[-97,33],[-96,33],[-96.1,32.2],[-96.7,32.2]],
  [[-95.8,30],[-94.9,30],[-94.9,29.5],[-95.5,29.5]],
  [[-82.1,28.5],[-81.5,28.5],[-81.3,27.6],[-81.8,27.6]]]
const conservativeAreas1990s = [
  [[-122.1,45.7],[-121,45.7],[-121.4,45.2],[-122,45.3]],
  [[-110,44.8],[-107.8,44.9],[-107.8,44],[-109,43.9],[-109.5,43.2],[-110,43.2]],
  [[-105.1,41.6],[-104.2,41.6],[-104.2,41.05],[-105.1,41.05]],
  [[-106.3,36.9],[-105.5,36.9],[-105.8,36.1],[-106.2,36.1]],
  [[-120.6,36.1],[-119.2,36.2],[-119.1,35.2],[-119.9,35.2],[-120.7,35.7]],
  [[-122,35.9],[-121.3,35.6],[-120.6,34.9],[-120.9,34.7],[-121.6,35.2]]]

const liberalByDecade = [liberal1960s, liberal1970s, liberal1980s, liberal1990s]
const conservativeByDecade = [conservative1960s, conservative1970s, conservative1980s, conservative1990s]
const liberalAreasByDecade = [liberalAreas1960s, liberalAreas1970s, liberalAreas1980s, liberalAreas1990s]
const conservativeAreasByDecade = [conservativeAreas1960s, conservativeAreas1970s, conservativeAreas1980s, conservativeAreas1990s]

// leaning 0 = liberal, 1 = conservative, same ramp as the legend bar
const leaningStops = [0, 0.25, 0.72, 1]
const leaningColors = ["#222222", "#2a2a2a", "#ffffff", "#ffffff"]
const leaningColor = d3.scaleLinear().domain(leaningStops).range(leaningColors)

const width = 1394, height = 1189
const svg = d3.select("#chart").append("svg").attr("width", width).attr("height", height)

const defs = svg.append("defs")
const soft = defs.append("filter").attr("id", "soft")
soft.append("feGaussianBlur").attr("stdDeviation", 0.75)
const textSoft = defs.append("filter").attr("id", "textsoft")
textSoft.append("feGaussianBlur").attr("stdDeviation", 0.4)

const grad = defs.append("linearGradient").attr("id", "ramp")
grad.selectAll("stop").data(leaningStops).join("stop")
  .attr("offset", d => d)
  .attr("stop-color", d => leaningColor(d))

// one panel per decade
const panelLayout = [
  {mx: 0, my: 0, titleX: 0, titleY: 28.5, legX: 0, labelX: 0, labelY: 0},
  {mx: 721, my: 0, titleX: 723, titleY: 28.5, legX: 784, labelX: 781, labelY: 5},
  {mx: 0, my: 640, titleX: 5, titleY: 664, legX: 0, labelX: 0, labelY: 657},
  {mx: 721, my: 640, titleX: 728, titleY: 664, legX: 784, labelX: 781, labelY: 660.5}
]

const projection = d3.geoConicEqualArea()
  .parallels([29.5, 45.5]).rotate([96, 0]).center([0, 38.7])
  .fitExtent([[74, 98], [562, 407]], {type: "MultiPoint", coordinates: usOutline})

const ring = d3.line().x(d => projection(d)[0]).y(d => projection(d)[1])
const geoPath = d3.geoPath(projection)
// faint county mesh
const mesh = d3.geoGraticule().extent([[-125, 24], [-66, 50]]).step([0.62, 0.5])()

svg.append("clipPath").attr("id", "usclip").append("path").attr("d", ring(usOutline) + "Z")

function countyBox(c) {
  const w = 0.29, h = 0.2
  return ring([[c[0]-w, c[1]+h], [c[0]+w, c[1]+h], [c[0]+w, c[1]-h], [c[0]-w, c[1]-h]]) + "Z"
}

// two line label as one text element
function twoLines(sel, lines, x, y) {
  const t = sel.append("text").attr("x", x).attr("y", y)
  t.selectAll("tspan").data(lines).join("tspan")
    .attr("x", x)
    .attr("dy", (d, k) => k === 0 ? 0 : 26)
    .text(d => d)
}

panelLayout.forEach((p, i) => {
  svg.append("text")
    .attr("x", p.titleX).attr("y", p.titleY)
    .attr("font-family", "Liberation Sans")
    .attr("font-weight", "bold")
    .attr("font-size", 31.4)
    .attr("fill", "#2e2e2e")
    .attr("filter", "url(#textsoft)")
    .text(`Liberal and Conservative Protests (${decades[i]})`)

  const map = svg.append("g")
    .attr("transform", `translate(${p.mx},${p.my})`)
    .attr("filter", "url(#soft)")

  map.append("path").attr("d", ring(usOutline) + "Z").attr("fill", "#a9a9a9")

  map.append("g").attr("clip-path", "url(#usclip)")
    .append("path").attr("d", geoPath(mesh))
    .attr("fill", "none").attr("stroke", "#b6b6b6").attr("stroke-width", 0.5)

  const marks = map.append("g").attr("clip-path", "url(#usclip)")
    .attr("stroke-linejoin", "round")
  marks.selectAll(".libarea").data(liberalAreasByDecade[i]).join("path")
    .attr("class", "libarea")
    .attr("d", d => ring(d) + "Z")
    .attr("fill", "#363636").attr("stroke", "#363636").attr("stroke-width", 1.2)
  marks.selectAll(".conarea").data(conservativeAreasByDecade[i]).join("path")
    .attr("class", "conarea")
    .attr("d", d => ring(d) + "Z")
    .attr("fill", leaningColor(1)).attr("stroke", leaningColor(1)).attr("stroke-width", 1)
  marks.selectAll(".lib").data(liberalByDecade[i]).join("path")
    .attr("class", "lib")
    .attr("d", countyBox)
    .attr("fill", "#363636").attr("stroke", "#363636").attr("stroke-width", 1.2)
  marks.selectAll(".con").data(conservativeByDecade[i]).join("path")
    .attr("class", "con")
    .attr("d", countyBox)
    .attr("fill", leaningColor(1)).attr("stroke", leaningColor(1)).attr("stroke-width", 1)

  map.selectAll(".state").data(stateLines).join("path")
    .attr("class", "state")
    .attr("d", d => ring(d))
    .attr("fill", "none").attr("stroke", "#626262").attr("stroke-width", 1.8)
    .attr("stroke-linejoin", "round")
  map.append("path").attr("d", ring(usOutline) + "Z")
    .attr("fill", "none").attr("stroke", "#6a6a6a").attr("stroke-width", 1.8)
    .attr("stroke-linejoin", "round")

  // legend bar
  const barY = p.my === 0 ? 441 : 1084
  const barX = d3.scaleLinear().domain([0, 1]).range([39 + p.legX, 519 + p.legX])
  svg.append("rect")
    .attr("x", barX(0)).attr("y", barY)
    .attr("width", barX(1) - barX(0)).attr("height", 17.5)
    .attr("fill", "url(#ramp)").attr("stroke", "#333").attr("stroke-width", 1.2)

  const labels = svg.append("g")
    .attr("font-family", "Lato").attr("font-size", 25.7).attr("fill", "#444")
    .attr("text-anchor", "middle")
    .style("font-variant-ligatures", "none")
  twoLines(labels, legendLeft, 89 + p.labelX, 497 + p.labelY)
  twoLines(labels, legendRight, 492 + p.labelX, 497 + p.labelY)
})
</script>
</body>
</html>
